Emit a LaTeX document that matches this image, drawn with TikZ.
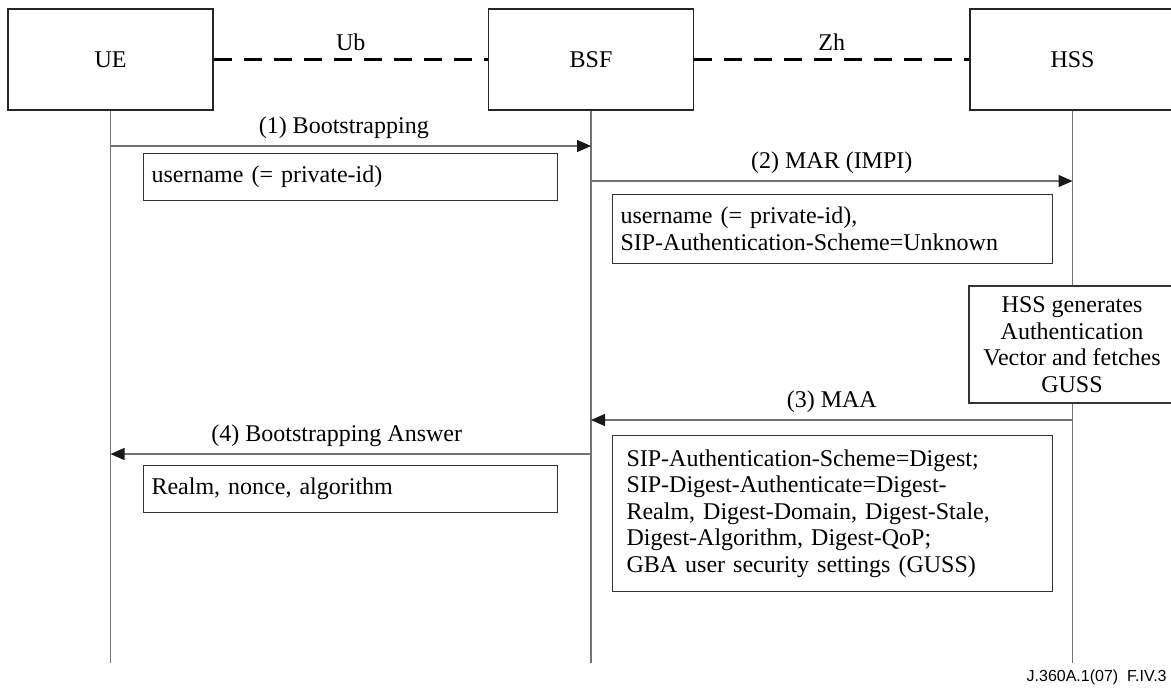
\documentclass[tikz,border=0pt]{standalone}
\usepackage{fontspec}
\setmainfont{Liberation Serif}
\newfontfamily\figidfont{Liberation Sans}
\usetikzlibrary{arrows.meta}

\begin{document}
\begin{tikzpicture}[x=0.5pt,y=-0.5pt,line join=miter,
  font=\fontsize{12}{13.3}\selectfont,
  entity/.style={draw=black!85,line width=0.55pt,minimum width=102.5pt,minimum height=50.5pt,inner sep=0pt},
  notebox/.style={draw=black!80,line width=0.55pt,anchor=north west,inner xsep=4pt,inner ysep=0pt,align=left},
  lifeline/.style={draw=black!55,line width=0.65pt},
  iface/.style={line width=1.5pt,dash pattern=on 9pt off 6pt},
  msg/.style={draw=black!55,line width=0.65pt,-{Triangle[length=7pt,width=6pt,color=black!90]}},
  msglabel/.style={above=1.5pt,inner sep=2pt}]
  \useasboundingbox (0,0) rectangle (1171,687);

  \node[entity] (ue) at (110.5,59.5) {UE};
  \node[entity] (bsf) at (591,59.5) {BSF};
  \node[entity] (hss) at (1072.5,59.5) {HSS};

  \draw[iface] (ue) -- node[above=0.5pt] (ub) {Ub} (bsf);
  \draw[iface] (bsf) -- node[above=0.5pt] (zh) {Zh} (hss);

  \coordinate (ue-end) at (110.5,663);
  \coordinate (bsf-end) at (591,663);
  \coordinate (hss-end) at (1072.5,663);
  \draw[lifeline] (ue) -- (ue-end);
  \draw[lifeline] (bsf) -- (bsf-end);
  \draw[lifeline] (hss) -- (hss-end);

  \coordinate (ue-m1) at (110.5,146);
  \coordinate (bsf-m1) at (591,146);
  \draw[msg] (ue-m1) -- node[msglabel,xshift=-3.5pt] (m1) {(1) Bootstrapping} (bsf-m1);
  \node[notebox,text width=199pt,minimum height=23.5pt] (p1) at (143,153) {username (= private-id)};

  \coordinate (bsf-m2) at (591,181);
  \coordinate (hss-m2) at (1072.5,181);
  \draw[msg] (bsf-m2) -- node[msglabel] (m2) {(2) MAR (IMPI)} (hss-m2);
  \node[notebox,text width=212pt,minimum height=34.5pt] (p2) at (612,194) {username (= private-id),\\SIP-Authentication-Scheme=Unknown};

  \node[draw=black!80,fill=white,line width=0.55pt,align=center,minimum width=103pt,minimum height=58.5pt,inner sep=0pt] (gen) at (1072,344.5) {HSS generates\\Authentication\\Vector and fetches\\GUSS};

  \coordinate (hss-m3) at (1072.5,420);
  \coordinate (bsf-m3) at (591,420);
  \draw[msg] (hss-m3) -- node[msglabel] (m3) {(3) MAA} (bsf-m3);
  \node[notebox,inner xsep=7pt,text width=206pt,minimum height=78pt] (p3) at (612,435) {SIP-Authentication-Scheme=Digest;\\SIP-Digest-Authenticate=Digest-\\Realm, Digest-Domain, Digest-Stale,\\Digest-Algorithm, Digest-QoP;\\GBA user security settings (GUSS)};

  \coordinate (bsf-m4) at (591,454);
  \coordinate (ue-m4) at (110.5,454);
  \draw[msg] (bsf-m4) -- node[msglabel,xshift=-7pt] (m4) {(4) Bootstrapping Answer} (ue-m4);
  \node[notebox,text width=199pt,minimum height=23.5pt] (p4) at (143,465) {Realm, nonce, algorithm};

  \node[anchor=base east,inner sep=0pt,font=\figidfont\fontsize{8}{9.6}\selectfont] (figid) at (1167,681) {J.360A.1(07)\ \ F.IV.3};
\end{tikzpicture}
\end{document}
